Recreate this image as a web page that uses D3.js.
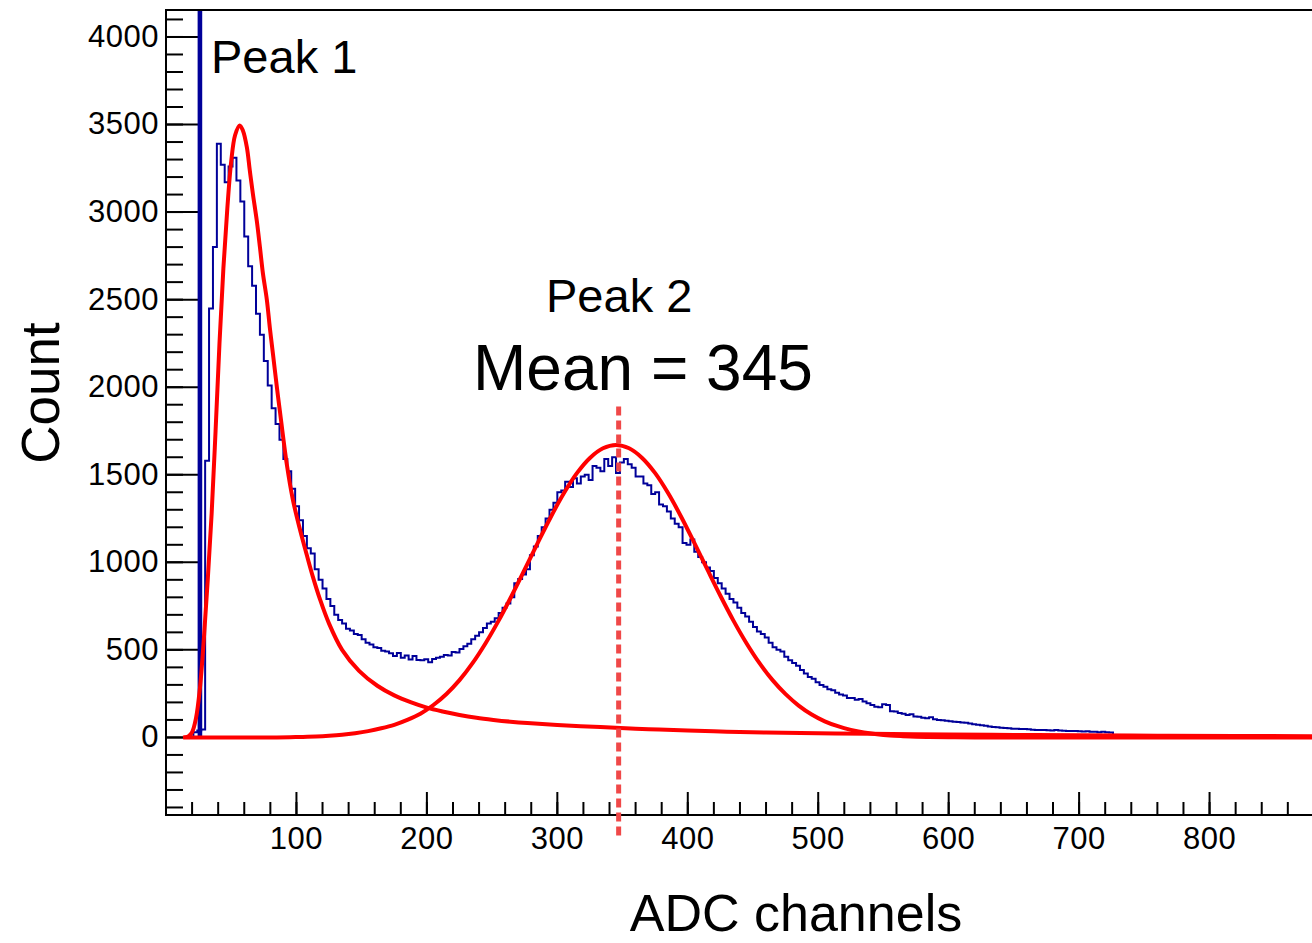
<!DOCTYPE html>
<html>
<head>
<meta charset="utf-8">
<script src="https://d3js.org/d3.v7.min.js"></script>
<style>
  body { margin: 0; background: #fff; }
  svg { display: block; font-family: "Liberation Sans", Arial, sans-serif; }
</style>
</head>
<body>
<div id="chart"></div>
<script>

// Histogram counts, one value per 3-channel bin, first bin starts at channel 21
const binStart = 21;
const binWidth = 3;
const counts = [
  30, 40, 45, 1580, 2450, 2800, 3390, 3270, 3170, 3260,
  3310, 3180, 3060, 2860, 2690, 2580, 2420, 2300, 2150, 2010,
  1880, 1790, 1700, 1590, 1520, 1420, 1320, 1240, 1150, 1080,
  1050, 960, 900, 850, 790, 750, 700, 670, 650, 620,
  610, 590, 585, 560, 540, 530, 515, 510, 495, 490,
  480, 465, 482, 455, 468, 445, 465, 442, 440, 446,
  430, 448, 455, 460, 470, 468, 488, 485, 505, 520,
  535, 560, 580, 600, 625, 650, 660, 680, 710, 740,
  765, 800, 880, 905, 930, 960, 1040, 1090, 1150, 1200,
  1250, 1300, 1340, 1400, 1410, 1460, 1430, 1480, 1450, 1490,
  1500, 1470, 1550, 1540, 1520, 1590, 1550, 1600, 1510, 1570,
  1590, 1560, 1540, 1490, 1490, 1450, 1440, 1390, 1400, 1330,
  1320, 1290, 1250, 1220, 1200, 1110, 1100, 1130, 1060, 1030,
  1000, 970, 950, 910, 880, 850, 820, 790, 770, 740,
  710, 690, 660, 630, 605, 590, 570, 540, 515, 500,
  490, 460, 440, 425, 410, 385, 365, 345, 335, 315,
  300, 290, 275, 270, 255, 245, 240, 225, 225, 215,
  220, 205, 195, 185, 175, 172, 190, 185, 150, 148,
  140, 135, 128, 132, 120, 118, 112, 110, 115, 104,
  100, 98, 95, 92, 90, 88, 85, 84, 80, 75,
  72, 70, 66, 62, 60, 58, 55, 54, 53, 50,
  50, 48, 48, 46, 44, 43, 42, 42, 41, 40,
  42, 40, 38, 37, 36, 36, 35, 34, 35, 33,
  32, 30, 32, 30, 28
];

// pedestal spike, a single narrow bin that runs off the top
const pedestalBin = [25, 27];
const pedestalCount = 5200;

// Fit curves as [ADC channel, count]
const peak1Fit = [
  [13, 0], [17, 6], [20, 30], [23, 110], [26, 280], [29, 560], [32, 900],
  [35, 1280], [38, 1750], [41, 2250], [44, 2680], [47, 3020], [50, 3290],
  [53, 3440], [56.5, 3495], [59, 3465], [62, 3370], [64.2, 3240], [66.6, 3105],
  [69.6, 2950], [72, 2800], [74.3, 2650], [77.3, 2500], [79.6, 2340], [82, 2190],
  [85, 2000], [87.2, 1870], [92.6, 1560], [97.2, 1360], [102.6, 1190], [108, 1040],
  [112.5, 920], [118, 790], [125, 650], [135, 500], [148, 380], [162, 295],
  [175, 240], [188, 200], [200, 170], [212, 148], [225, 128], [238, 112],
  [251, 100], [264, 90], [277, 82], [300, 71], [333, 59], [360, 50], [378, 45],
  [400, 39], [430, 33], [460, 28], [500, 24], [540, 21], [600, 17], [650, 14],
  [700, 12], [760, 10], [820, 8], [880, 7]
];

const peak2Fit = [
  [14, 0], [85, 0], [95, 1], [105, 3], [115, 5], [125, 9], [135, 15], [145, 24],
  [155, 36], [165, 52], [175, 72], [185, 100], [195, 135], [205, 185], [215, 248],
  [225, 327], [235, 424], [245, 538], [255, 667], [265, 809], [275, 959], [285, 1111],
  [295, 1259], [305, 1394], [315, 1509], [325, 1596], [335, 1651], [345, 1670],
  [355, 1651], [365, 1596], [375, 1509], [385, 1394], [395, 1259], [405, 1111],
  [415, 959], [425, 809], [435, 667], [445, 538], [455, 424], [465, 327], [475, 247],
  [485, 182], [495, 131], [505, 92], [515, 64], [525, 43], [535, 28], [545, 18],
  [555, 11], [565, 7], [575, 4], [585, 2.5], [600, 1], [620, 0], [880, 0]
];

const peak2Mean = 345;
const meanMarker = 347;   // where the dashed line sits in the picture

const xTicks = [100, 200, 300, 400, 500, 600, 700, 800];
const yTicks = [0, 500, 1000, 1500, 2000, 2500, 3000, 3500, 4000];


function histoChart() {

  let margin = {
      top: 10,
      left: 166
    },
    width = 1174,   // whole frame, its right part is cut by the picture
    height = 805,
    xScale = d3.scaleLinear(),
    yScale = d3.scaleLinear();

  function chart(selector) {

    let svg = d3.select(selector)
      .append("svg")
        .attr("width", 1312)
        .attr("height", 943);

    svg.append("rect")
        .attr("width", 1312)
        .attr("height", 943)
        .attr("fill", "#fff");

    let g = svg.append("g")
        .attr("transform", "translate(" + margin.left + "," + margin.top + ")");

    xScale.domain([0, 900]).range([0, width]);
    yScale.domain([-443, 4154]).range([height, 0]);

    g.append("clipPath")
        .attr("id", "plotArea")
      .append("rect")
        .attr("width", width)
        .attr("height", height);

    // minor ticks first, majors on top
    g.append("g")
        .call(d3.axisLeft(yScale).tickValues(d3.range(-400, 4101, 100))
          .tickSize(-17).tickFormat("").offset(0));
    g.append("g")
        .attr("transform", "translate(0," + height + ")")
        .call(d3.axisBottom(xScale).tickValues(d3.range(20, 900, 20))
          .tickSize(-13).tickFormat("").offset(0));

    g.append("g")
        .attr("class", "axis")
        .call(d3.axisLeft(yScale).tickValues(yTicks)
          .tickSize(-35).tickPadding(7).tickFormat(d3.format("d")).offset(0));

    g.append("g")
        .attr("class", "axis")
        .attr("transform", "translate(0," + height + ")")
        .call(d3.axisBottom(xScale).tickValues(xTicks)
          .tickSize(-23).tickPadding(12).tickFormat(d3.format("d")).offset(0));

    g.selectAll(".domain").remove();
    g.selectAll(".tick line")
        .attr("stroke", "#000")
        .attr("stroke-width", 2);
    g.selectAll(".axis text")
        .attr("fill", "#000")
        .style("font-size", "31px")
        .style("letter-spacing", "0.5px")
        .style("font-family", "'Liberation Sans', Arial, sans-serif");

    // histogram as steps
    let steps = counts.map((c, i) => [binStart + i * binWidth, c]);
    let lastEdge = binStart + counts.length * binWidth;
    steps.unshift([binStart, 0]);
    steps.push([lastEdge, counts[counts.length - 1]]);
    steps.push([lastEdge, 0]);

    let spike = [
      [pedestalBin[0], 0],
      [pedestalBin[0], pedestalCount],
      [pedestalBin[1], pedestalCount],
      [pedestalBin[1], 0]
    ];

    const stepLine = d3.line()
      .x(d => xScale(d[0]))
      .y(d => yScale(d[1]))
      .curve(d3.curveStepAfter);

    let plot = g.append("g").attr("clip-path", "url(#plotArea)");

    plot.append("path")
        .attr("d", stepLine(steps))
        .attr("fill", "none")
        .attr("stroke", "#000099")
        .attr("stroke-width", 2);

    // spike drawn solid, it reads as one thick line
    plot.append("path")
        .attr("d", stepLine(spike))
        .attr("fill", "#000099")
        .attr("stroke", "#000099")
        .attr("stroke-width", 2);

    const fitLine = d3.line()
      .x(d => xScale(d[0]))
      .y(d => yScale(d[1]))
      .curve(d3.curveCatmullRom.alpha(0.5));

    plot.selectAll(".fit")
      .data([peak2Fit, peak1Fit])
      .enter()
      .append("path")
        .attr("class", "fit")
        .attr("d", fitLine)
        .attr("fill", "none")
        .attr("stroke", "#ff0000")
        .attr("stroke-width", 4)
        .attr("stroke-linejoin", "round");

    // frame
    g.append("rect")
        .attr("width", width)
        .attr("height", height)
        .attr("fill", "none")
        .attr("stroke", "#000")
        .attr("stroke-width", 2);

    // mean of peak 2, runs past the x axis
    g.append("line")
        .attr("x1", xScale(meanMarker))
        .attr("x2", xScale(meanMarker))
        .attr("y1", yScale(1890))
        .attr("y2", height + 25)
        .attr("stroke", "#f04848")
        .attr("stroke-width", 5)
        .attr("stroke-dasharray", "9,5");

    // labels
    svg.append("text")
        .attr("x", 211)
        .attr("y", 73)
        .style("font-size", "47px")
        .text("Peak 1");

    svg.append("text")
        .attr("x", 546)
        .attr("y", 312)
        .style("font-size", "47px")
        .text("Peak 2");

    svg.append("text")
        .attr("x", 473)
        .attr("y", 390)
        .style("font-size", "64px")
        .text("Mean = " + peak2Mean);

    svg.append("text")
        .attr("transform", "translate(59,393) rotate(-90)")
        .style("text-anchor", "middle")
        .style("font-size", "53px")
        .text("Count");

    svg.append("text")
        .attr("x", 796)
        .attr("y", 931)
        .style("text-anchor", "middle")
        .style("font-size", "52px")
        .text("ADC channels");

    return chart;
  }

  return chart;
}

histoChart()("#chart");
</script>
</body>
</html>
